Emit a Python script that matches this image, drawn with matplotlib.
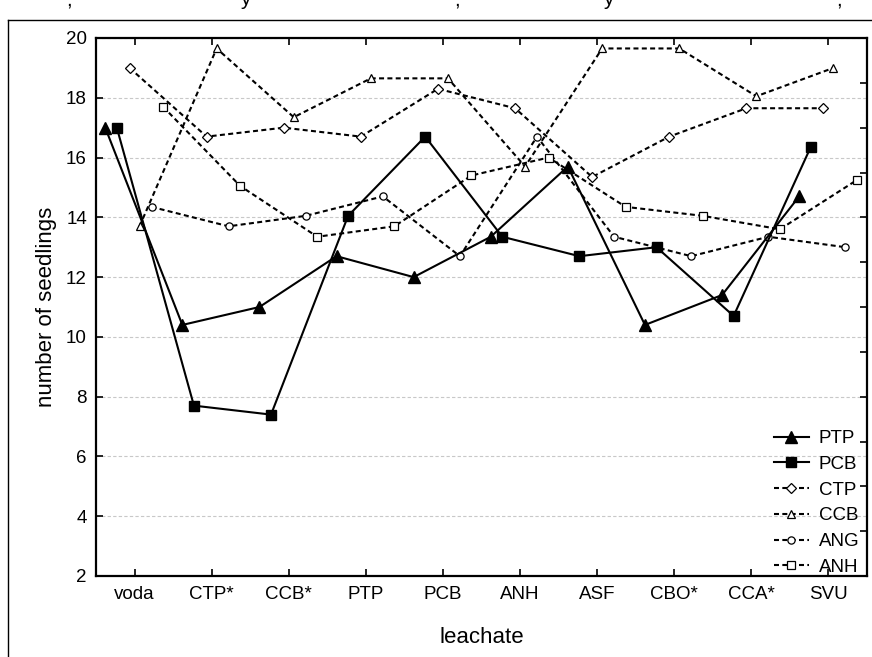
import numpy as np
import matplotlib
matplotlib.use("Agg")
import matplotlib.pyplot as plt
from matplotlib.lines import Line2D

plt.rcParams['font.family'] = ['Liberation Sans', 'DejaVu Sans']

categories = ['voda', 'CTP*', 'CCB*', 'PTP', 'PCB', 'ANH', 'ASF', 'CBO*', 'CCA*', 'SVU']

ptp = [17.0, 10.4, 11.0, 12.7, 12.0, 13.35, 15.7, 10.4, 11.4, 14.7]
pcb = [17.0, 7.7, 7.4, 14.05, 16.7, 13.35, 12.7, 13.0, 10.7, 16.35]
ctp = [19.0, 16.7, 17.0, 16.7, 18.3, 17.65, 15.35, 16.7, 17.65, 17.65]
ccb = [13.7, 19.65, 17.35, 18.65, 18.65, 15.7, 19.65, 19.65, 18.05, 19.0]
ang = [14.35, 13.7, 14.05, 14.7, 12.7, 16.7, 13.35, 12.7, 13.35, 13.0]
anh = [17.7, 15.05, 13.35, 13.7, 15.4, 16.0, 14.35, 14.05, 13.6, 15.25]

series = [
    # label, values, marker, filled, solid, size, dodge
    ('PTP', ptp, '^', True, True, 8, -0.38),
    ('PCB', pcb, 's', True, True, 7.5, -0.23),
    ('CTP', ctp, 'D', False, False, 5.0, -0.065),
    ('CCB', ccb, '^', False, False, 5.4, 0.065),
    ('ANG', ang, 'o', False, False, 5.2, 0.22),
    ('ANH', anh, 's', False, False, 5.4, 0.37),
]

fig = plt.figure(figsize=(8.72, 6.57), dpi=100)
ax = fig.add_axes([96 / 872, 1 - 576 / 657, 771 / 872, 538 / 657])

x = np.arange(len(categories))
for label, vals, mk, filled, solid, ms, dx in series:
    if solid:
        ax.plot(x + dx, vals, color='black', lw=1.5, ls='-', marker=mk, ms=ms,
                mfc='black', mec='black', label=label, zorder=4)
    else:
        ax.plot(x + dx, vals, color='black', lw=1.5, ls=(0, (2.4, 1.6)), marker=mk, ms=ms,
                mfc='white', mec='black', mew=0.9, label=label, zorder=3)

ax.set_xlim(-0.5, len(categories) - 0.5)
ax.set_ylim(2, 20)
ax.set_yticks(range(2, 21, 2))
ax.set_xticks(x)
ax.set_xticklabels(categories)
ax.grid(axis='y', color='#c8c8c8', lw=0.8, ls=(0, (3, 2)))
ax.set_axisbelow(True)
ax.tick_params(axis='both', direction='in', length=5, width=1.2, labelsize=13.5, top=True)
ax.tick_params(axis='x', pad=7.5)
ax.tick_params(axis='y', pad=6.5)
ax.set_xlabel('leachate', fontsize=16)
ax.set_ylabel('number of seedlings', fontsize=16)
ax.xaxis.set_label_coords(0.5, -(627 - 576) / 538)
ax.yaxis.set_label_coords((57 - 96) / 771, 0.5)
for sp in ax.spines.values():
    sp.set_linewidth(1.6)

# right axis has its own (unlabelled) inward ticks
ax2 = ax.twinx()
ax2.set_ylim(0, 12)
ax2.set_yticks(range(13))
ax2.tick_params(axis='y', direction='in', length=5, width=1.2, labelright=False)
for sp in ax2.spines.values():
    sp.set_visible(False)

leg = ax.legend(loc='lower left', bbox_to_anchor=(0.879, 0.0), frameon=False,
                fontsize=13.5, handlelength=1.87, handletextpad=0.53, labelspacing=0.46,
                borderpad=0, borderaxespad=0)
leg.set_zorder(5)

# page frame and clipped text fragments from above
fig.add_artist(Line2D([8 / 872, 8 / 872], [0, 1 - 20 / 657], color='black', lw=1.0))
fig.add_artist(Line2D([8 / 872, 1], [1 - 20 / 657, 1 - 20 / 657], color='black', lw=1.0))
for px, ch in [(66, ','), (240, 'y'), (454, ','), (603, 'y'), (836, ',')]:
    fig.text(px / 872, 1 - 5 / 657, ch, fontsize=15, va='baseline', ha='left')

fig.savefig('out.png', dpi=100)
